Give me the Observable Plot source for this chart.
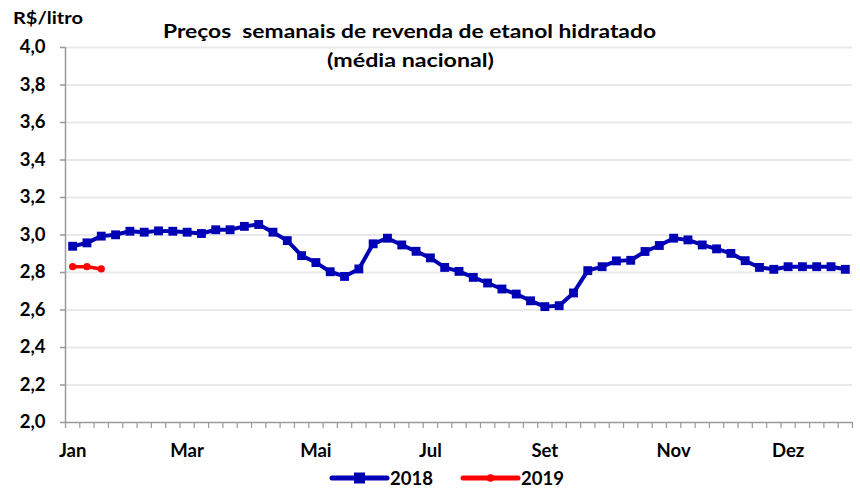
<!DOCTYPE html>
<html><head><meta charset="utf-8">
<script src="https://cdn.jsdelivr.net/npm/d3@7"></script>
<script src="https://cdn.jsdelivr.net/npm/@observablehq/plot@0.6"></script>
<style>
body{margin:0;background:#fff;}
#wrap{position:relative;width:860px;height:488px;}
#wrap svg{display:block;}
#overlay{position:absolute;left:0;top:0;pointer-events:none;}
</style></head><body>
<div id="wrap"></div>
<script>
// Weekly category index (55 weekly categories on the x axis)
const weeks = d3.range(55);
const monthLabels = ["Jan", "Mar", "Mai", "Jul", "Set", "Nov", "Dez"];
const monthWeeks = [0, 8, 17, 25, 33, 42, 50];
const yTicks = [2.0, 2.2, 2.4, 2.6, 2.8, 3.0, 3.2, 3.4, 3.6, 3.8, 4.0];

const prices2018 = [
  2.940, 2.958, 2.994, 3.001, 3.020, 3.015, 3.022, 3.020, 3.015, 3.008,
  3.028, 3.028, 3.046, 3.056, 3.015, 2.970, 2.890, 2.853, 2.804, 2.779,
  2.819, 2.953, 2.983, 2.947, 2.913, 2.878, 2.827, 2.806, 2.774, 2.744,
  2.712, 2.685, 2.649, 2.618, 2.623, 2.691, 2.810, 2.831, 2.862, 2.865,
  2.912, 2.944, 2.983, 2.974, 2.947, 2.926, 2.902, 2.863, 2.827, 2.817,
  2.831, 2.831, 2.831, 2.831, 2.817
];
const prices2019 = [2.831, 2.831, 2.819];

const seriesNames = ["2018", "2019"];
const seriesColors = ["#0000b4", "#ff0000"];

const data2018 = prices2018.map((v, i) => ({week: weeks[i], price: v}));
const data2019 = prices2019.map((v, i) => ({week: weeks[i], price: v}));
const months = monthLabels.map((m, i) => ({label: m, week: monthWeeks[i]}));

const fmt = d => d3.format(".1f")(d).replace(".", ",");
const FONT = "Lato, 'Open Sans', sans-serif";

const plot = Plot.plot({
  width: 860, height: 488,
  marginLeft: 65, marginRight: 8, marginTop: 47, marginBottom: 66,
  style: {fontFamily: FONT, fontWeight: "bold", fontSize: "18.5px", color: "#000", background: "#fff"},
  x: {type: "linear", domain: [0, weeks.length]},
  y: {domain: [2, 4]},
  marks: [
    Plot.gridY(yTicks.slice(1), {stroke: "#e9e9e9", strokeOpacity: 1, strokeWidth: 2}),
    Plot.axisY(yTicks, {tickSize: 5, tickPadding: 15, tickFormat: fmt, stroke: "#9a9a9a", strokeWidth: 1.5, label: null, fill: "#000", fontSize: 18.5}),
    Plot.axisX(d3.range(weeks.length + 1), {tickSize: 6, tickFormat: () => "", stroke: "#9a9a9a", strokeWidth: 1.2, label: null}),
    Plot.ruleX([0], {stroke: "#9a9a9a", strokeWidth: 1.5}),
    Plot.ruleY([2], {stroke: "#9a9a9a", strokeWidth: 1.5}),
    Plot.text(months, {x: d => d.week + 0.5, y: () => 2, text: "label", dy: 29, fontSize: 18.5, fontWeight: "bold", fill: "#000"}),
    Plot.line(data2018, {x: d => d.week + 0.5, y: "price", stroke: seriesColors[0], strokeWidth: 4}),
    Plot.dot(data2018, {x: d => d.week + 0.5, y: "price", symbol: "square", r: 5, fill: seriesColors[0], stroke: "none"}),
    Plot.line(data2019, {x: d => d.week + 0.5, y: "price", stroke: seriesColors[1], strokeWidth: 3.5}),
    Plot.dot(data2019, {x: d => d.week + 0.5, y: "price", r: 3.6, fill: seriesColors[1], stroke: "none"})
  ]
});
document.getElementById("wrap").appendChild(plot);

// Titles and legend (overlay)
const ov = d3.select("#wrap").append("svg").attr("id", "overlay")
  .attr("width", 860).attr("height", 488)
  .style("font-family", FONT).style("font-weight", "bold");
ov.append("text").attr("x", 13).attr("y", 24).attr("font-size", 17.5)
  .attr("textLength", 70).attr("lengthAdjust", "spacingAndGlyphs").text("R$/litro");
ov.append("text").attr("x", 163).attr("y", 38).attr("font-size", 19)
  .attr("textLength", 493).attr("lengthAdjust", "spacingAndGlyphs")
  .attr("xml:space", "preserve").style("white-space", "pre")
  .text("Preços  semanais de revenda de etanol hidratado");
ov.append("text").attr("x", 327).attr("y", 67).attr("font-size", 19)
  .attr("textLength", 167).attr("lengthAdjust", "spacingAndGlyphs").text("(média nacional)");

const leg = [
  {x0: 332, x1: 387, tx: 390, sym: "square"},
  {x0: 463, x1: 518, tx: 521, sym: "circle"}
];
leg.forEach((l, i) => {
  ov.append("line").attr("x1", l.x0).attr("x2", l.x1).attr("y1", 478).attr("y2", 478)
    .attr("stroke", seriesColors[i]).attr("stroke-width", 5).attr("stroke-linecap", "round");
  const cx = (l.x0 + l.x1) / 2;
  if (l.sym === "square") ov.append("rect").attr("x", cx - 5.5).attr("y", 472.5).attr("width", 11).attr("height", 11).attr("fill", seriesColors[i]);
  else ov.append("circle").attr("cx", cx).attr("cy", 478).attr("r", 3.8).attr("fill", seriesColors[i]);
  ov.append("text").attr("x", l.tx).attr("y", 485).attr("font-size", 18.5).text(seriesNames[i]);
});
</script>
</body></html>
